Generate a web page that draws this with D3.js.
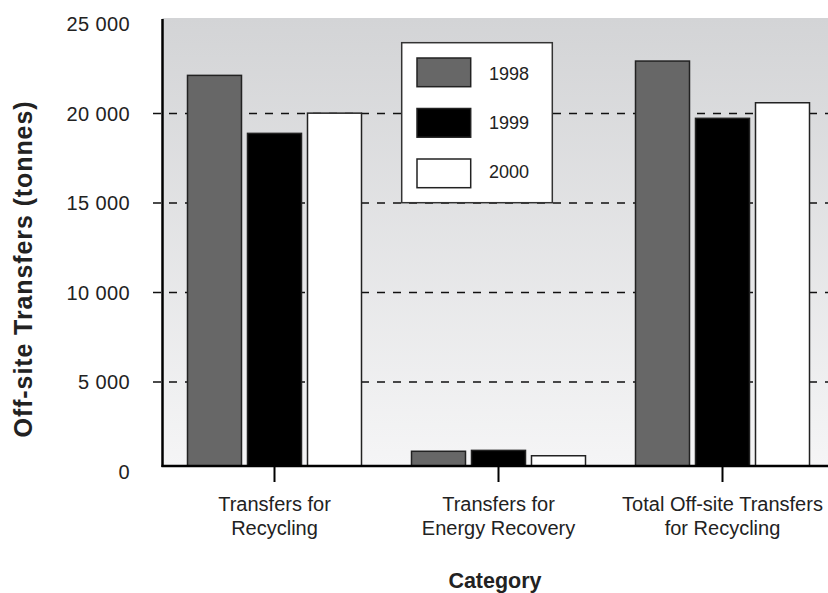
<!DOCTYPE html>
<html><head><meta charset="utf-8">
<script src="https://cdn.jsdelivr.net/npm/d3@7"></script>
<style>body{margin:0;background:#fff}svg{display:block;font-family:"Liberation Sans",Arial,Helvetica,sans-serif}</style>
</head><body>
<svg id="c" width="828" height="593"></svg>
<script>
const categories = [["Transfers for","Recycling"],["Transfers for","Energy Recovery"],["Total Off-site Transfers","for Recycling"]];
const categoryKeys = ["rec","energy","total"];
const years = ["1998","1999","2000"];
const values1998 = [22130, 1130, 22930];
const values1999 = [18890, 1180, 19730];
const values2000 = [20020, 880, 20600];
const yTicks = [0, 5000, 10000, 15000, 20000, 25000];
const yTickLabels = ["0","5 000","10 000","15 000","20 000","25 000"];
const colors = ["#676767","#000000","#ffffff"];
const series = [values1998, values1999, values2000];

(function(){
const svg = d3.select("#c");
const pLeft = 162.5, pRight = 828, pTop = 18, pBottom = 466;

const defs = svg.append("defs");
const g = defs.append("linearGradient").attr("id","bg").attr("x1",0).attr("y1",0).attr("x2",0).attr("y2",1);
g.append("stop").attr("offset","0%").attr("stop-color","#d3d4d6");
g.append("stop").attr("offset","100%").attr("stop-color","#f5f5f6");

svg.append("rect").attr("x",pLeft).attr("y",pTop).attr("width",pRight-pLeft).attr("height",pBottom-pTop).attr("fill","url(#bg)");

const y = d3.scaleLinear().domain([0,25000]).range([471.5,24]);
const x0 = d3.scaleBand().domain(categoryKeys).range([162.5,834.5]);
const x1 = d3.scaleBand().domain(years).range([-87,87]).paddingInner(0.1).paddingOuter(0);

// gridlines
svg.append("g").selectAll("line").data(yTicks.filter(d=>d>0 && d<25000)).join("line")
  .attr("x1",153).attr("x2",pRight).attr("y1",d=>y(d)).attr("y2",d=>y(d))
  .attr("stroke","#111").attr("stroke-width",1.3).attr("stroke-dasharray","8,8");

// y tick labels
svg.append("g").selectAll("text").data(yTicks).join("text")
  .attr("x",130).attr("y",d=>y(d)).attr("dy","0.36em").attr("text-anchor","end")
  .attr("font-size",20).attr("letter-spacing",0.4).attr("fill","#222").text((d,i)=>yTickLabels[i]);

// bars
const gb = svg.append("g");
categoryKeys.forEach((c,ci)=>{
  years.forEach((yr,si)=>{
    const v = series[si][ci];
    gb.append("rect")
      .attr("x", x0(c)+x0.bandwidth()/2 + x1(yr))
      .attr("y", y(v))
      .attr("width", x1.bandwidth())
      .attr("height", pBottom - y(v))
      .attr("fill", colors[si]).attr("stroke","#222").attr("stroke-width",1.5);
  });
});

// axes lines
svg.append("line").attr("x1",pLeft).attr("x2",pLeft).attr("y1",pTop+1).attr("y2",pBottom+1)
  .attr("stroke","#000").attr("stroke-width",2.5);
svg.append("line").attr("x1",pLeft-1).attr("x2",pRight).attr("y1",pBottom).attr("y2",pBottom)
  .attr("stroke","#000").attr("stroke-width",2.5);

// x ticks
svg.append("g").selectAll("line").data(categoryKeys).join("line")
  .attr("x1",d=>x0(d)+x0.bandwidth()/2).attr("x2",d=>x0(d)+x0.bandwidth()/2)
  .attr("y1",pBottom).attr("y2",482).attr("stroke","#000").attr("stroke-width",2);

// x labels
const xl = svg.append("g").selectAll("text").data(categoryKeys).join("text")
  .attr("text-anchor","middle").attr("font-size",20).attr("fill","#222");
xl.each(function(d,i){
  const t = d3.select(this);
  categories[i].forEach((ln,li)=>{
    t.append("tspan").attr("x",x0(d)+x0.bandwidth()/2).attr("y",511+li*24.3).text(ln);
  });
});

// axis titles
svg.append("text").attr("x",495).attr("y",588).attr("text-anchor","middle")
  .attr("font-size",21.5).attr("font-weight","bold").attr("fill","#222").text("Category");
svg.append("text").attr("transform","translate(32,269) rotate(-90)").attr("text-anchor","middle")
  .attr("font-size",25).attr("letter-spacing",0.9).attr("font-weight","bold").attr("fill","#222").text("Off-site Transfers (tonnes)");

// legend
const lg = svg.append("g");
lg.append("rect").attr("x",401.7).attr("y",42.7).attr("width",150.6).attr("height",160)
  .attr("fill","#fff").attr("stroke","#333").attr("stroke-width",1.5);
years.forEach((yr,i)=>{
  lg.append("rect").attr("x",417).attr("y",58+i*50.5).attr("width",53.7).attr("height",28.7)
    .attr("fill",colors[i]).attr("stroke","#222").attr("stroke-width",1.5);
  lg.append("text").attr("x",489).attr("y",80.2+i*48.8).attr("font-size",18).attr("fill","#222").text(yr);
});
})();
</script>
</body></html>
